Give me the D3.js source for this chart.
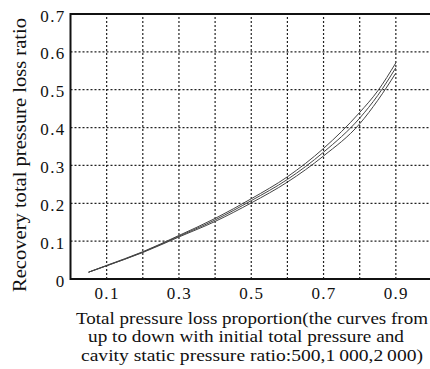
<!DOCTYPE html>
<html>
<head>
<meta charset="utf-8">
<script src="https://cdn.jsdelivr.net/npm/d3@7"></script>
<style>
  body { margin: 0; background: #fff; }
</style>
</head>
<body>
<div id="chart"></div>
<script>
// pressure loss proportion
const xVals = [0.05, 0.1, 0.2, 0.3, 0.4, 0.5, 0.6, 0.7, 0.8, 0.85, 0.9];
// recovery ratio, curves from up to down: 500, 1000, 2000
const s500  = [0.018, 0.036, 0.072, 0.115, 0.160, 0.212, 0.270, 0.345, 0.440, 0.497, 0.571];
const s1000 = [0.018, 0.035, 0.071, 0.113, 0.156, 0.207, 0.263, 0.335, 0.425, 0.485, 0.558];
const s2000 = [0.018, 0.035, 0.070, 0.111, 0.152, 0.201, 0.256, 0.325, 0.410, 0.472, 0.544];
const xTicks = [0.1, 0.3, 0.5, 0.7, 0.9];
const xGrid = [0.1, 0.2, 0.3, 0.4, 0.5, 0.6, 0.7, 0.8, 0.9];
const yTicks = [0, 0.1, 0.2, 0.3, 0.4, 0.5, 0.6, 0.7];

const W = 430, H = 369;
const serif = "Liberation Serif";
const x = d3.scaleLinear().domain([0, 1]).range([70.5, 432]);
const y = d3.scaleLinear().domain([0, 0.7]).range([279, 14]);

const svg = d3.select("#chart").append("svg")
    .attr("width", W).attr("height", H)
    .attr("font-family", serif);

// grid
svg.append("g").selectAll("line").data(xGrid).enter().append("line")
    .attr("x1", d => x(d)).attr("x2", d => x(d))
    .attr("y1", y(0)).attr("y2", y(0.7))
    .attr("stroke", "#222").attr("stroke-width", 1.2)
    .attr("stroke-dasharray", "2,2");
svg.append("g").selectAll("line").data(yTicks.slice(1, -1)).enter().append("line")
    .attr("x1", x(0)).attr("x2", W)
    .attr("y1", d => y(d)).attr("y2", d => y(d))
    .attr("stroke", "#222").attr("stroke-width", 1.2)
    .attr("stroke-dasharray", "2,2");

// frame (right side is cut off in the original)
svg.append("path")
    .attr("d", `M${W},${y(0.7)}H${x(0)}V${y(0)}H${W}`)
    .attr("fill", "none").attr("stroke", "#111").attr("stroke-width", 2);

// axes
const xAxis = svg.append("g")
    .attr("transform", `translate(0,${y(0)})`)
    .call(d3.axisBottom(x).tickValues(xTicks).tickSize(0).tickPadding(8).tickFormat(d3.format(".1f")));
const yAxis = svg.append("g")
    .attr("transform", `translate(${x(0)},0)`)
    .call(d3.axisLeft(y).tickValues(yTicks).tickSize(0).tickPadding(5)
        .tickFormat(d => d === 0 ? "0" : d3.format(".1f")(d)));
[xAxis, yAxis].forEach(a => {
    a.select(".domain").remove();
    a.attr("font-family", serif).attr("font-size", 17);
    a.selectAll("text").attr("fill", "#111").attr("letter-spacing", "1.3");
});
yAxis.selectAll("text").attr("dy", "0.42em");

// curves
const line = d3.line()
    .x((d, i) => x(xVals[i]))
    .y(d => y(d))
    .curve(d3.curveMonotoneX);
[s500, s1000, s2000].forEach(s => {
    svg.append("path").datum(s)
        .attr("d", line)
        .attr("fill", "none").attr("stroke", "#444").attr("stroke-width", 1);
});

// labels
svg.append("text")
    .attr("transform", `translate(26,155) rotate(-90)`)
    .attr("text-anchor", "middle").attr("font-size", 18).attr("fill", "#111")
    .attr("textLength", 274).attr("lengthAdjust", "spacingAndGlyphs")
    .text("Recovery total pressure loss ratio");

const xLabel = [
    "Total pressure loss proportion(the curves from",
    "up to down with initial total pressure and",
    "cavity static pressure ratio:500,1\u2009000,2\u2009000)"
];
const xLabelW = [352, 316, 342];
const xLabelX = [252, 246, 252];
svg.append("g").selectAll("text").data(xLabel).enter().append("text")
    .attr("x", (d, i) => xLabelX[i]).attr("y", (d, i) => 324 + i * 18.3)
    .attr("text-anchor", "middle").attr("font-size", 17.5).attr("fill", "#111")
    .attr("textLength", (d, i) => xLabelW[i]).attr("lengthAdjust", "spacingAndGlyphs")
    .text(d => d);
</script>
</body>
</html>
